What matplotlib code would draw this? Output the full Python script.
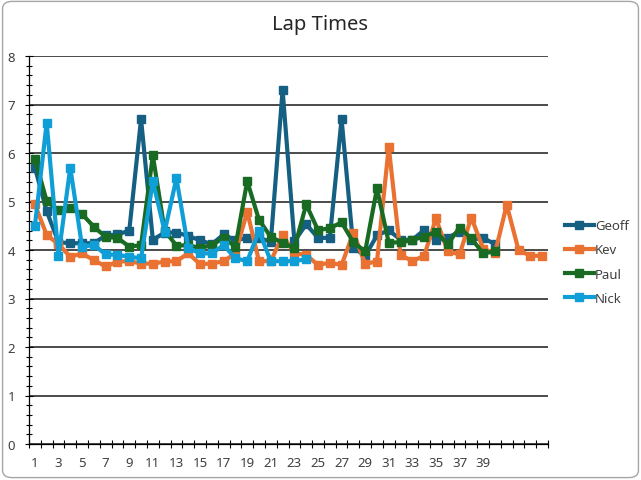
import matplotlib
matplotlib.use("Agg")
import matplotlib.pyplot as plt
from matplotlib.patches import FancyBboxPatch
from matplotlib.ticker import MultipleLocator, FixedLocator

plt.rcParams['font.family'] = ['Noto Sans', 'DejaVu Sans']

title = "Lap Times"
series_names = ["Geoff", "Kev", "Paul", "Nick"]
colors = ["#156082", "#E97132", "#196B24", "#0F9ED5"]

n_laps = 44
tick_labels = [str(i) for i in range(1, 40, 2)]

geoff = [5.7, 4.8, 4.16, 4.14, 4.14, 4.14, 4.3, 4.32, 4.4, 6.7,
         4.21, 4.36, 4.36, 4.29, 4.2, 4.12, 4.32, 4.2, 4.25, 4.25,
         4.17, 7.3, 4.18, 4.53, 4.25, 4.25, 6.7, 4.05, 3.88, 4.3,
         4.41, 4.21, 4.21, 4.41, 4.2, 4.25, 4.38, 4.21, 4.25, 4.12]
kev = [4.94, 4.31, 4.12, 3.86, 3.93, 3.79, 3.66, 3.76, 3.77, 3.72,
       3.72, 3.76, 3.77, 3.93, 3.71, 3.72, 3.77, 3.93, 4.79, 3.77,
       3.77, 4.3, 3.93, 3.9, 3.69, 3.74, 3.69, 4.36, 3.72, 3.76,
       6.13, 3.9, 3.77, 3.88, 4.65, 3.97, 3.91, 4.67, 4.03, 3.93,
       4.93, 4.0, 3.88, 3.88]
paul = [5.88, 5.01, 4.82, 4.86, 4.74, 4.48, 4.27, 4.25, 4.07, 4.1,
        5.95, 4.4, 4.09, 4.1, 4.04, 4.1, 4.25, 4.07, 5.42, 4.62,
        4.27, 4.15, 4.04, 4.94, 4.41, 4.45, 4.57, 4.16, 3.97, 5.27,
        4.15, 4.16, 4.21, 4.27, 4.38, 4.12, 4.46, 4.24, 3.93, 3.97]
nick = [4.5, 6.62, 3.88, 5.7, 4.07, 4.1, 3.91, 3.9, 3.86, 3.83,
        5.42, 4.38, 5.48, 4.04, 3.93, 3.93, 4.1, 3.83, 3.77, 4.39,
        3.77, 3.77, 3.77, 3.81]

data = [geoff, kev, paul, nick]

fig = plt.figure(figsize=(6.41, 4.81), dpi=100)
fig.patch.set_facecolor("white")

# rounded chart border
border = FancyBboxPatch((0.004, 0.005), 0.992, 0.99,
                        boxstyle="round,pad=0,rounding_size=0.015",
                        transform=fig.transFigure, facecolor="none",
                        edgecolor="#A6A6A6", linewidth=1.0)
fig.patches.append(border)

ax = fig.add_axes([29/641, 1-445/481, (548-29)/641, (445-57)/481])

for name, vals, c in zip(series_names, data, colors):
    x = list(range(1, len(vals) + 1))
    ax.plot(x, vals, color=c, lw=3.0, marker="s", markersize=5.5,
            label=name, solid_joinstyle="round", zorder=3)

ax.set_xlim(0.5, n_laps + 0.5)
ax.set_ylim(0, 8)

ax.yaxis.set_major_locator(MultipleLocator(1))
ax.yaxis.set_minor_locator(MultipleLocator(0.2))
ax.grid(axis="y", which="major", color="#1a1a1a", lw=1.1, zorder=1)

ax.xaxis.set_major_locator(FixedLocator(list(range(1, 40, 2))))
ax.set_xticklabels(tick_labels)
ax.xaxis.set_minor_locator(FixedLocator([i + 0.5 for i in range(0, n_laps + 1)]))

ax.tick_params(axis="x", which="major", length=0, pad=9, labelsize=9.5, colors="#404040")
ax.tick_params(axis="x", which="minor", direction="inout", length=6, width=0.8, color="black")
ax.tick_params(axis="y", which="major", direction="inout", length=6, width=0.8, pad=7,
               labelsize=9.5, colors="black", labelcolor="#404040")
ax.tick_params(axis="y", which="minor", direction="inout", length=5, width=0.8, color="black")

for s in ["top", "right"]:
    ax.spines[s].set_visible(False)
for s in ["left", "bottom"]:
    ax.spines[s].set_color("black")
    ax.spines[s].set_linewidth(0.9)
ax.set_facecolor("white")

fig.text(0.5, 1 - 25/481, title, ha="center", va="center", fontsize=14.5, color="#262626")

leg = fig.legend(loc="center left", bbox_to_anchor=(553/641, 1 - 263/481),
                 frameon=False, fontsize=9.5, handlelength=2.2, labelspacing=0.85,
                 handletextpad=0.1)
for t in leg.get_texts():
    t.set_color("#404040")

fig.savefig("out.png", dpi=100, facecolor="white")
